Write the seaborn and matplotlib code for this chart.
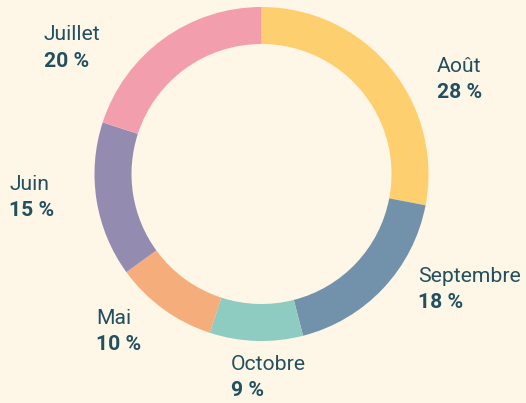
import matplotlib
matplotlib.use("Agg")
import matplotlib.pyplot as plt
import seaborn as sns

# Data (clockwise from 12 o'clock)
months = ["Août", "Septembre", "Octobre", "Mai", "Juin", "Juillet"]
shares = [28, 18, 9, 10, 15, 20]
colors = ["#fecf6f", "#7292ab", "#8ecbc0", "#f5ae7b", "#948cb0", "#f29ead"]

# label anchors in pixel coords (left edge, baseline of first line)
label_xy = [(437, 72), (418, 282), (231, 370), (96, 324), (9, 190), (44, 40.5)]

BG = "#fef6e6"
TXT = "#22505f"

sns.set_theme(style="white")
plt.rcParams["font.family"] = ["Roboto", "DejaVu Sans"]

W, H = 526, 403
fig = plt.figure(figsize=(W / 100, H / 100), dpi=100, facecolor=BG)
ax = fig.add_axes([0, 0, 1, 1])
ax.set_facecolor(BG)

pal = sns.color_palette(colors)
outer_r = 167
ax.pie(shares, colors=pal, startangle=90, counterclock=False,
       center=(261.5, H - 174), radius=outer_r,
       wedgeprops=dict(width=37, linewidth=0))

for m, s, (x, y) in zip(months, shares, label_xy):
    ax.text(x, H - y, m, ha="left", va="baseline", fontsize=15.2, color=TXT)
    ax.text(x, H - y - 26.5, f"{s} %", ha="left", va="baseline",
            fontsize=15.2, fontweight="bold", color=TXT)

ax.set_xlim(0, W)
ax.set_ylim(0, H)
ax.set_aspect("equal")
ax.axis("off")

fig.savefig("out.png", dpi=100, facecolor=BG)
